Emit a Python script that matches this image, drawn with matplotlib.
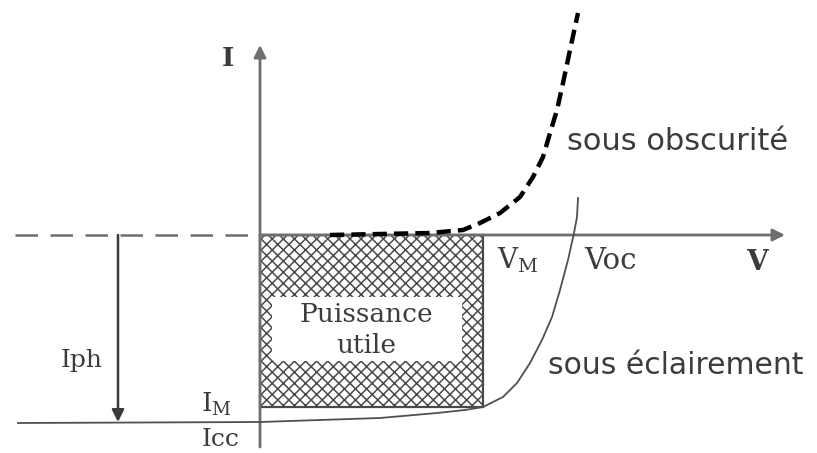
import matplotlib
matplotlib.use("Agg")
import matplotlib.pyplot as plt
from matplotlib.patches import Rectangle, FancyBboxPatch

plt.rcParams['mathtext.fontset'] = 'dejavuserif'
plt.rcParams['hatch.linewidth'] = 1.1

# Diagram coordinates: origin where the I and V axes cross
# dark curve (sous obscurite)
dark_v = [70, 120, 170, 203, 220, 240, 260, 273, 283, 290, 297, 303, 310, 318]
dark_i = [0, 1, 2, 5, 12, 22, 38, 58, 78, 102, 125, 152, 185, 222]

# illuminated curve (sous eclairement), starts at the Icc line
light_v = [-242, 0, 120, 177, 205, 223, 243, 257, 270, 282, 292, 300, 308, 314, 317, 318]
light_i = [-188, -187, -183, -178, -175, -172, -162, -148, -128, -105, -82, -55, -25, 2, 18, 37]

# maximum power point
v_m = 223
i_m = -172
i_ph = -187

axis_col = '#6e6e6e'
text_col = '#3c3c3c'

fig = plt.figure(figsize=(8.17, 4.53), dpi=100)
ax = fig.add_axes([0, 0, 1, 1])
ax.set_xlim(-260, 557)
ax.set_ylim(-218, 235)
ax.axis('off')

# axes with arrows
ax.annotate('', xy=(525, 0), xytext=(0, 0),
            arrowprops=dict(arrowstyle='-|>', color=axis_col, lw=2.0,
                            mutation_scale=18, shrinkA=0, shrinkB=0))
ax.annotate('', xy=(0, 190), xytext=(0, -212),
            arrowprops=dict(arrowstyle='-|>', color=axis_col, lw=2.0,
                            mutation_scale=18, shrinkA=0, shrinkB=0))
ax.plot([-245, -2], [0, 0], color=axis_col, lw=1.8, dashes=(9, 5))

# hatched power rectangle
ax.add_patch(Rectangle((0, i_m), v_m, -i_m, facecolor='white',
                       edgecolor='#4a4a4a', hatch='xxx', lw=1.6))
ax.add_patch(FancyBboxPatch((14, -124), 186, 60, boxstyle='round,pad=2',
                            facecolor='white', edgecolor='none', zorder=3))
ax.text(106, -95, 'Puissance\nutile', ha='center', va='center', fontsize=19,
        family='DejaVu Serif', color=text_col, linespacing=1.3, zorder=4)

# curves
ax.plot(light_v, light_i, color='#505050', lw=1.3, zorder=5)
ax.plot(dark_v, dark_i, color='black', lw=3.2, dashes=(3.2, 1.6), zorder=5)

# Iph arrow
ax.annotate('', xy=(-142, i_ph), xytext=(-142, 0),
            arrowprops=dict(arrowstyle='-|>', color='#3a3a3a', lw=1.8,
                            mutation_scale=18, shrinkA=0, shrinkB=0))

serif = dict(family='DejaVu Serif', color=text_col, ha='center', va='center')
ax.text(-32, 177, 'I', fontsize=19, fontweight='bold', **serif)
ax.text(497, -27, 'V', fontsize=20, fontweight='bold', **serif)
ax.text(258, -25, r'$\mathrm{V_M}$', fontsize=20, **serif)
ax.text(351, -26, 'Voc', fontsize=21, **serif)
ax.text(-178, -125, 'Iph', fontsize=18, **serif)
ax.text(-44, -169, r'$\mathrm{I_M}$', fontsize=19, **serif)
ax.text(-39, -205, 'Icc', fontsize=18, **serif)

sans = dict(family='DejaVu Sans', color=text_col, ha='center', va='center')
ax.text(418, 93, 'sous obscurité', fontsize=22, **sans)
ax.text(416, -130, 'sous éclairement', fontsize=21.5, **sans)

fig.savefig('out.png', dpi=100)
